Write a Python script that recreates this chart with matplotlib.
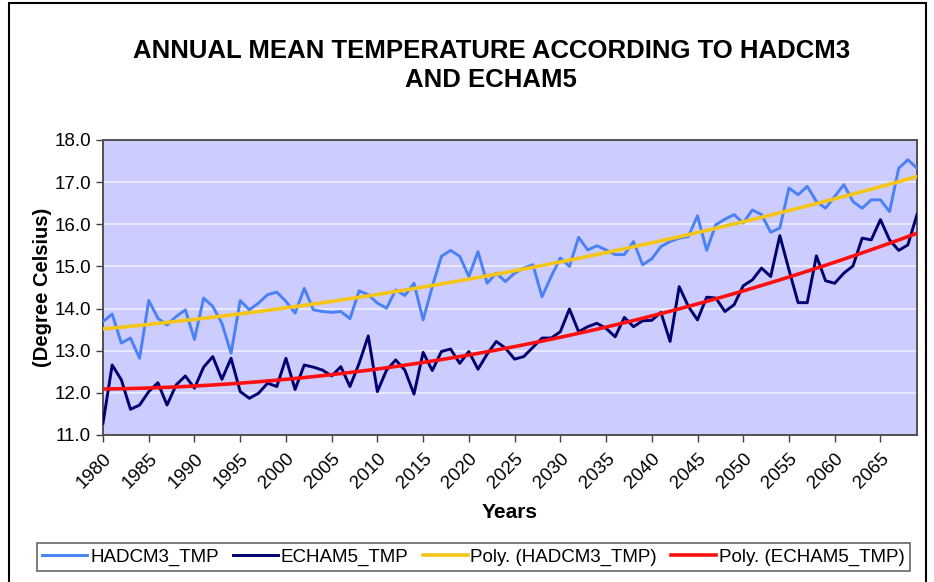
import matplotlib
matplotlib.use("Agg")
import matplotlib.pyplot as plt
import numpy as np
from matplotlib.patches import Rectangle

plt.rcParams['font.family'] = ['Liberation Sans', 'DejaVu Sans']

# Years 1980..2069, one value per year
years = list(range(1980, 2070))

hadcm3 = [13.69, 13.87, 13.18, 13.30, 12.82, 14.19, 13.77, 13.61, 13.81, 13.97,
          13.27, 14.25, 14.05, 13.65, 12.94, 14.19, 13.97, 14.13, 14.33, 14.39,
          14.17, 13.89, 14.48, 13.97, 13.93, 13.91, 13.93, 13.76, 14.42, 14.33,
          14.13, 14.01, 14.44, 14.31, 14.60, 13.73, 14.52, 15.24, 15.38, 15.24,
          14.76, 15.35, 14.60, 14.84, 14.64, 14.84, 14.96, 15.04, 14.28, 14.76,
          15.20, 15.00, 15.69, 15.39, 15.49, 15.39, 15.28, 15.28, 15.59, 15.04,
          15.18, 15.47, 15.59, 15.67, 15.71, 16.20, 15.38, 15.99, 16.12, 16.23,
          16.03, 16.34, 16.23, 15.81, 15.91, 16.86, 16.70, 16.90, 16.54, 16.38,
          16.66, 16.94, 16.54, 16.38, 16.58, 16.58, 16.30, 17.33, 17.53, 17.33]

echam5 = [11.28, 12.66, 12.31, 11.61, 11.71, 12.03, 12.24, 11.71, 12.19, 12.40,
          12.11, 12.61, 12.86, 12.32, 12.82, 12.03, 11.87, 11.99, 12.23, 12.15,
          12.82, 12.08, 12.66, 12.61, 12.54, 12.40, 12.62, 12.15, 12.70, 13.35,
          12.03, 12.54, 12.78, 12.54, 11.97, 12.96, 12.53, 12.98, 13.04, 12.70,
          12.98, 12.56, 12.92, 13.22, 13.06, 12.80, 12.86, 13.08, 13.30, 13.30,
          13.45, 13.99, 13.45, 13.57, 13.65, 13.53, 13.33, 13.79, 13.57, 13.71,
          13.72, 13.91, 13.22, 14.52, 14.05, 13.73, 14.27, 14.25, 13.93, 14.09,
          14.54, 14.68, 14.96, 14.76, 15.73, 14.92, 14.14, 14.14, 15.25, 14.66,
          14.60, 14.84, 15.01, 15.67, 15.63, 16.11, 15.63, 15.38, 15.51, 16.23]

x_ticks = list(range(1980, 2070, 5))
y_ticks = [11.0, 12.0, 13.0, 14.0, 15.0, 16.0, 17.0, 18.0]

# 2nd order polynomial trend lines (like Excel "Poly." trendline)
yr = np.array(years, dtype=float)
had_fit = np.polyval(np.polyfit(yr - 1980, hadcm3, 2), yr - 1980)
ech_fit = np.polyval(np.polyfit(yr - 1980, echam5, 2), yr - 1980)

fig = plt.figure(figsize=(9.34, 5.82), dpi=100)
ax = fig.add_axes([0.1103, 0.2526, 0.8715, 0.5069])
ax.set_facecolor('#CCCCFF')

ax.plot(years, hadcm3, color='#4A82F5', lw=2.1, label='HADCM3_TMP', zorder=3)
ax.plot(years, echam5, color='#000070', lw=2.1, label='ECHAM5_TMP', zorder=3)
ax.plot(years, had_fit, color='#F5C518', lw=2.6, label='Poly. (HADCM3_TMP)', zorder=4)
ax.plot(years, ech_fit, color='#FF1010', lw=2.6, label='Poly. (ECHAM5_TMP)', zorder=4)

ax.set_xlim(1980, 2069)
ax.set_ylim(11.0, 18.0)
ax.set_xticks(x_ticks)
ax.set_xticklabels([str(t) for t in x_ticks], rotation=45, ha='right',
                   rotation_mode='anchor', fontsize=13.5)
ax.set_yticks(y_ticks)
ax.set_yticklabels(['%.1f' % t for t in y_ticks], fontsize=13.5)
ax.tick_params(axis='both', direction='out', length=5, width=1, color='#404040')
ax.tick_params(axis='x', pad=6)
ax.grid(axis='y', color='#EEEEFF', lw=1.2, zorder=1)
ax.set_axisbelow(True)
for s in ax.spines.values():
    s.set_color('#505050')
    s.set_linewidth(1.4)

ax.set_xlabel('Years', fontsize=15, fontweight='bold', labelpad=8)
ax.set_ylabel('(Degree Celsius)', fontsize=14.5, fontweight='bold', labelpad=2)

fig.text(0.526, 0.888, 'ANNUAL MEAN TEMPERATURE ACCORDING TO HADCM3\nAND ECHAM5',
         ha='center', va='center', fontsize=18.5, fontweight='bold',
         linespacing=1.25)

leg = fig.legend(loc='center', bbox_to_anchor=(0.507, 0.043), ncol=4,
                 fontsize=13.5, frameon=True, fancybox=False, edgecolor='#404040',
                 handlelength=2.4, handletextpad=0.15, columnspacing=0.75,
                 borderpad=0.3, borderaxespad=0)
leg.get_frame().set_linewidth(1.2)

# outer chart frame
fig.patches.append(Rectangle((9 / 934, -0.01), 917 / 934, 1.005,
                             transform=fig.transFigure, fill=False,
                             edgecolor='black', lw=1.5))

fig.savefig('out.png', dpi=100)
